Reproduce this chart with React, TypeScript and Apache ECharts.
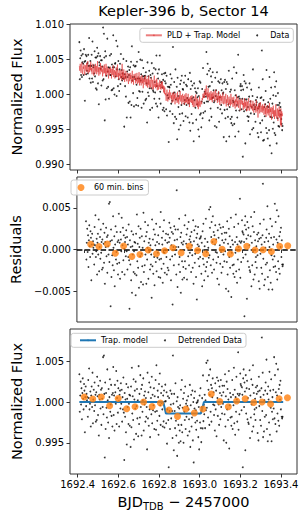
import React, { useEffect, useRef } from 'react';
import * as echarts from 'echarts';

// ---- data ----
// time of first cadence (BJD_TDB - 2457000) and cadence (3 min, in days)
const T0 = 1692.408;
const CADENCE = 1 / 480;

// residuals (data - PLD model), in units of 1e-4
const residual = [
  34,-12,8,25,-3,17,-21,11,29,4,-9,22,14,-37,6,19,-5,10,2,6,
  -18,27,5,41,-9,-2,13,-30,8,19,-6,36,-26,3,15,-11,24,-4,9,-24,
  12,-22,31,7,-16,20,-41,9,3,26,-8,15,-28,17,4,-6,55,-15,57,10,
  -68,24,-33,11,-7,-19,40,2,-25,16,-44,6,28,-12,-3,21,-17,9,-30,11,
  43,-16,8,-35,21,12,-2,38,-27,5,26,-13,17,1,-30,9,14,-8,23,-2,
  15,-24,6,-9,30,-13,-71,11,-18,3,-37,22,-52,4,-6,18,-27,-2,9,-29,
  8,-55,19,-31,42,-14,7,-22,28,-46,3,14,-8,25,-39,-5,16,-20,2,-42,
  44,-27,10,-19,33,-6,16,-41,21,-12,2,29,-35,8,-3,13,-24,5,-18,-6,
  -58,36,-20,12,-29,24,-9,-43,18,5,-15,31,-26,9,-10,-4,17,-33,7,-12,
  27,-34,45,-11,-23,14,6,-40,22,-17,35,-4,-28,11,-1,19,-9,-30,8,-22,
  18,-25,9,32,14,-12,26,-37,5,21,-8,-66,19,3,-19,28,11,-6,24,3,
  -30,71,12,-45,24,3,-18,37,-9,-27,15,-52,20,8,-14,-36,6,-21,10,-34,
  29,-14,41,-23,7,18,-36,25,2,-8,33,-19,12,-4,16,9,-27,21,5,-7,
  -22,35,-41,10,23,-16,-5,28,-33,14,-60,19,6,27,-11,4,-20,13,-9,14,
  16,-29,8,-44,22,-11,31,-18,-37,4,13,-26,37,-21,-3,-15,9,-32,2,-10,
  48,-7,26,51,-19,15,33,-28,9,40,-12,21,-24,17,6,29,-3,12,-16,-4,
  -35,23,-9,14,-42,30,5,-17,26,-3,-28,19,11,-21,27,-6,8,-14,20,-2,
  12,-47,20,-15,34,-30,7,-50,25,-9,16,-22,3,38,-57,-4,11,-19,6,-29,
  -18,27,-33,9,-4,42,-26,15,-40,6,-12,31,3,-24,10,61,-34,8,-15,10,
  35,22,20,-10,18,9,-80,29,40,-6,24,13,-59,33,-14,17,26,-21,5,-25,
  -27,16,39,-44,8,-19,28,-3,-36,21,45,-30,11,-15,-9,4,-22,18,-7,10,
  20,-38,13,-47,31,-5,14,-22,6,-29,17,79,-11,36,-43,9,-36,2,-18,14,
  24,-16,52,-33,10,-48,19,3,-25,37,-40,14,-7,28,-48,-12,6,-21,15,-8,
  55,-20,33,-27,12,47,-36,8,-14,40,-23,16,-29,21,3,26,-9,11,-18,-20,
  -18,
];

// PLD + trapezoid model (relative to 1), in units of 1e-4
const pldModel = [
  41,34,44,38,31,39,46,35,29,40,37,43,33,28,42,38,34,45,32,39,48,30,36,40,
  32,43,35,47,33,38,29,40,44,36,27,41,38,30,44,33,41,29,36,48,32,39,27,37,
  39,29,45,34,41,32,36,26,41,37,30,43,31,38,26,44,34,28,40,31,36,23,38,32,
  28,40,31,37,23,34,37,28,42,25,31,35,23,33,28,39,25,31,43,25,31,21,35,27,
  30,23,35,27,20,44,24,32,21,36,25,18,30,22,34,26,19,29,31,22,15,30,26,19,
  31,22,28,16,27,34,18,24,14,29,22,26,30,16,24,19,31,15,21,26,17,32,13,23,
  17,26,13,22,28,16,24,9,22,18,26,14,16,27,12,22,18,10,23,14,27,10,18,21,
  10,19,24,14,7,21,16,8,21,27,11,15,9,21,11,23,6,16,17,7,14,11,21,8,
  15,7,18,10,19,8,13,3,12,1,10,-1,2,-9,1,7,-6,-10,3,-2,-8,7,-5,1,
  3,-7,-1,-12,2,-3,-10,4,-6,0,-14,-1,2,-8,-4,-12,4,-10,-4,-14,-1,-7,5,-10,
  -9,-1,-14,-4,1,-11,-2,-8,-15,0,-6,-12,2,-11,-4,-14,-6,1,-13,-6,-18,-4,-11,-2,
  -4,-12,-1,-15,-8,-18,-7,-3,-14,-18,-8,0,-16,-11,-5,-18,-7,-21,-10,-16,-3,-18,-14,-9,
  -10,-14,-5,-8,1,-5,0,3,-5,8,-1,7,13,-3,3,-7,9,-4,1,-9,3,-3,-8,5,
  -8,1,-11,3,-1,-6,5,-5,-10,1,7,-8,-5,2,-12,-2,-7,5,-11,-2,-15,0,-5,-9,
  -2,-13,-4,3,-9,-14,-2,-7,-13,-4,1,-17,-7,-12,-1,-10,-17,-4,-3,-14,-7,-16,1,-12,
  -14,-4,-11,-18,-7,-3,-16,-9,-20,-7,-11,0,-18,-9,-14,-4,-19,-11,-8,-16,-23,-7,-14,-11,
  -6,-15,-9,-22,-12,-18,-5,-20,-11,-17,-8,-24,-16,-10,-23,-13,-5,-19,-23,-13,-18,-8,-21,-15,
  -14,-23,-9,-18,-26,-13,-12,-22,-17,-26,-8,-21,-24,-17,-33,-14,-21,-12,-27,-19,-11,-25,-21,-16,
  -26,-14,-23,-17,-29,-20,-13,-28,-19,-32,-17,-22,-27,-15,-30,-21,-26,-12,-33,-20,-25,-18,-36,-21,
  -19,-28,-16,-32,-23,-35,-22,-31,-14,-28,-34,-23,-20,-38,-22,-31,-17,-33,-26,-44,-20,-46,-24,-31,-27,
];

// trapezoid transit model vertices
const trapT = [1692.408, 1692.821, 1692.834, 1693.006, 1693.021, 1693.411];
const trapF = [1.0, 1.0, 0.9986, 0.9986, 1.0, 1.0];

// 60 min bins
const binTimes = [
  1692.432, 1692.474, 1692.516, 1692.557, 1692.599, 1692.641, 1692.682, 1692.724,
  1692.766, 1692.807, 1692.849, 1692.891, 1692.932, 1692.974, 1693.016, 1693.057,
  1693.099, 1693.141, 1693.182, 1693.224, 1693.266, 1693.307, 1693.349, 1693.391, 1693.432,
];
// binned residuals, ppt
const binResid = [
  0.62, 0.35, 0.65, -0.45, 0.42, -0.85, -0.59, -0.05, -0.50, -0.16, 0.20, -0.40, 0.40,
  -0.12, -0.52, 0.97, 0.03, -0.55, 0.08, 0.38, -0.06, -0.04, -0.25, 0.38, 0.46,
];
// binned detrended flux, ppt relative to 1
const binDetrended = [
  0.61, 0.37, 0.61, -0.45, 0.44, -0.82, -0.58, 0.0, -0.54, -0.12, -0.98, -1.76, -0.86,
  -1.35, -0.86, 0.98, 0.07, -0.58, 0.12, 0.40, -0.05, 0.0, -0.25, 0.40, 0.53,
];

// tick labels
const xTicks = [1692.4, 1692.6, 1692.8, 1693.0, 1693.2, 1693.4];
const yTicksTop = [0.99, 0.995, 1.0, 1.005, 1.01];
const yTicksMid = [-0.005, 0, 0.005];
const yTicksBot = [0.995, 1.0, 1.005];

const X_MIN = 1692.362;
const X_MAX = 1693.479;
const F = "'DejaVu Sans', sans-serif";
const AX = '#333';

function trapAt(t: number): number {
  for (let k = 0; k < trapT.length - 1; k++) {
    if (t >= trapT[k] && t <= trapT[k + 1]) {
      const f = (t - trapT[k]) / (trapT[k + 1] - trapT[k]);
      return trapF[k] + f * (trapF[k + 1] - trapF[k]);
    }
  }
  return 1.0;
}

function fmt3(v: number): string {
  if (Math.abs(v) < 1e-9) return '0.000';
  return (v < 0 ? '\u2212' : '') + Math.abs(v).toFixed(3);
}

function xAxis(gridIndex: number, showLabels: boolean, extra: any = {}) {
  return {
    type: 'value',
    gridIndex,
    min: X_MIN,
    max: X_MAX,
    axisLine: { show: false },
    axisTick: { show: true, inside: false, length: 3.5, customValues: xTicks, lineStyle: { color: AX, width: 1 } },
    axisLabel: {
      show: showLabels,
      customValues: xTicks,
      formatter: (v: number) => v.toFixed(1),
      fontSize: 10,
      color: '#000',
      fontFamily: F,
      margin: 5,
    },
    splitLine: { show: false },
    ...extra,
  };
}

function yAxis(gridIndex: number, min: number, max: number, ticks: number[], name: string, nameGap: number) {
  return {
    type: 'value',
    gridIndex,
    min,
    max,
    name,
    nameLocation: 'middle',
    nameGap,
    nameTextStyle: { fontSize: 14.5, color: '#000', fontFamily: F },
    axisLine: { show: false },
    axisTick: { show: true, inside: false, length: 3.5, customValues: ticks, lineStyle: { color: AX, width: 1 } },
    axisLabel: {
      customValues: ticks,
      formatter: (v: number) => fmt3(v),
      fontSize: 10,
      color: '#000',
      fontFamily: F,
      margin: 6,
    },
    splitLine: { show: false },
  };
}

const legendCommon = {
  orient: 'horizontal',
  itemWidth: 16,
  itemHeight: 2,
  itemGap: 16,
  selectedMode: false,
  textStyle: { fontSize: 8, fontFamily: F, color: '#000' },
  borderColor: '#ccc',
  borderWidth: 1,
  borderRadius: 2.5,
  backgroundColor: 'rgba(255,255,255,0.8)',
};

export default function App() {
  const ref = useRef<HTMLDivElement>(null);

  useEffect(() => {
    if (!ref.current) return;
    const chart = echarts.init(ref.current, undefined, { renderer: 'svg' });

    const times = residual.map((_, i) => T0 + i * CADENCE);
    const topData = times.map((t, i) => [t, 1 + (pldModel[i] + residual[i]) / 1e4]);
    const modelLine = times.map((t, i) => [t, 1 + pldModel[i] / 1e4]);
    const residData = times.map((t, i) => [t, residual[i] / 1e4]);
    const detrended = times.map((t, i) => [t, trapAt(t) + residual[i] / 1e4]);
    const binsR = binTimes.map((t, i) => [t, binResid[i] / 1e3]);
    const binsD = binTimes.map((t, i) => [t, 1 + binDetrended[i] / 1e3]);
    const trapLine = trapT.map((t, i) => [t, trapF[i]]);

    const gridBase = { show: true, borderColor: AX, borderWidth: 1, backgroundColor: 'transparent', containLabel: false };

    chart.setOption({
      animation: false,
      title: {
        text: 'Kepler-396 b, Sector 14',
        left: 183.5,
        top: 3,
        textAlign: 'center',
        padding: 0,
        textStyle: { fontSize: 14.5, fontWeight: 'normal', fontFamily: F, color: '#000' },
      },
      grid: [
        { ...gridBase, left: 70, top: 24, width: 227, height: 146 },
        { ...gridBase, left: 70, top: 177, width: 227, height: 145 },
        { ...gridBase, left: 70, top: 329, width: 227, height: 145 },
      ],
      xAxis: [
        xAxis(0, false),
        xAxis(1, false),
        xAxis(2, true, {
          name: '{a|BJD}{s|TDB}{a| \u2212 2457000}',
          nameLocation: 'middle',
          nameGap: 20,
          nameTextStyle: {
            fontSize: 14.5,
            color: '#000',
            fontFamily: F,
            rich: {
              a: { fontSize: 14.5, fontFamily: F, color: '#000', lineHeight: 17, verticalAlign: 'top' },
              s: { fontSize: 10, fontFamily: F, color: '#000', lineHeight: 10, padding: [9, 0, 0, 0], verticalAlign: 'bottom' },
            },
          },
        }),
      ],
      yAxis: [
        yAxis(0, 0.98919, 1.0101, yTicksTop, 'Normalized Flux', 39),
        yAxis(1, -0.0087, 0.0087, yTicksMid, 'Residuals', 47),
        yAxis(2, 0.99118, 1.00895, yTicksBot, 'Normalized Flux', 40),
      ],
      legend: [
        { ...legendCommon, data: ['PLD + Trap. Model', 'Data'], right: 12.7, top: 28.3, padding: [3, 4, 3, 5] },
        { ...legendCommon, data: ['60 min. bins'], itemHeight: 7, left: 71, top: 180, padding: [3.5, 5, 3.5, 6.5] },
        { ...legendCommon, data: ['Trap. model', 'Detrended Data'], left: 71, top: 333.3, padding: [3, 4, 3, 8] },
      ],
      series: [
        {
          name: 'Data', type: 'scatter', xAxisIndex: 0, yAxisIndex: 0, data: topData,
          symbol: 'circle', symbolSize: 1.8, itemStyle: { color: '#000' }, z: 2, silent: true,
        },
        {
          name: 'PLD + Trap. Model', type: 'line', xAxisIndex: 0, yAxisIndex: 0, data: modelLine,
          symbol: 'none', showSymbol: false, lineStyle: { color: '#de2d2d', width: 0.9, opacity: 0.62 },
          itemStyle: { color: '#de2d2d', opacity: 0.62 }, z: 3, silent: true,
        },
        {
          name: 'resid', type: 'scatter', xAxisIndex: 1, yAxisIndex: 1, data: residData,
          symbol: 'circle', symbolSize: 1.8, itemStyle: { color: '#000' }, z: 2, silent: true,
        },
        {
          name: 'zero', type: 'line', xAxisIndex: 1, yAxisIndex: 1, data: [], z: 3, silent: true,
          markLine: {
            silent: true, symbol: ['none', 'none'], label: { show: false }, z: 3,
            lineStyle: { color: '#000', type: [5.5, 2.4], width: 1.5 },
            emphasis: { disabled: true },
            data: [{ yAxis: 0 }],
          },
        },
        {
          name: '60 min. bins', type: 'scatter', xAxisIndex: 1, yAxisIndex: 1, data: binsR,
          symbol: 'circle', symbolSize: 7, itemStyle: { color: '#ff7f0e' }, z: 4, silent: true,
        },
        {
          name: 'Detrended Data', type: 'scatter', xAxisIndex: 2, yAxisIndex: 2, data: detrended,
          symbol: 'circle', symbolSize: 1.8, itemStyle: { color: '#000' }, z: 2, silent: true,
        },
        {
          name: 'Trap. model', type: 'line', xAxisIndex: 2, yAxisIndex: 2, data: trapLine,
          symbol: 'none', showSymbol: false, lineStyle: { color: '#1f77b4', width: 2 },
          itemStyle: { color: '#1f77b4' }, z: 3, silent: true,
        },
        {
          name: 'binsDetrended', type: 'scatter', xAxisIndex: 2, yAxisIndex: 2, data: binsD,
          symbol: 'circle', symbolSize: 7, itemStyle: { color: '#ff7f0e' }, z: 4, silent: true,
        },
      ],
    });

    return () => chart.dispose();
  }, []);

  return (
    <div
      ref={ref}
      style={{ position: 'fixed', left: 0, top: 0, width: 306, height: 518, background: '#fff' }}
    />
  );
}
